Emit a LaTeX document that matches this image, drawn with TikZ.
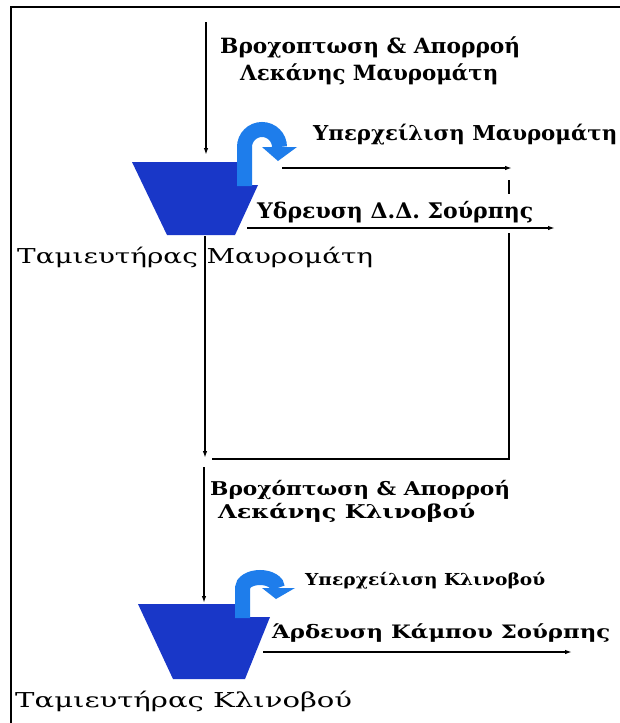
\documentclass[tikz,border=0pt]{standalone}
\usepackage{fontspec}
\setmainfont{DejaVu Serif}
\usepackage{graphicx}
\usetikzlibrary{arrows.meta}
\definecolor{tankblue}{RGB}{25,55,200}
\definecolor{pipeblue}{RGB}{30,125,235}
% #1 target width, #2 font size (sets cap height), #3 text
\newcommand{\fitt}[3]{\resizebox{#1}{\height}{\fontsize{#2}{#2}\selectfont #3}}
\tikzset{
  flow/.style={line width=2pt, -{Latex[length=7pt,width=4.5pt]}},
  plainline/.style={line width=2pt},
  lbl/.style={anchor=base west, inner sep=0pt, font=\bfseries},
  tname/.style={anchor=base west, inner sep=0pt},
  tank/.style={fill=tankblue},
  pipe/.style={draw=pipeblue, line width=15pt},
  pipehead/.style={fill=pipeblue},
  frameline/.style={line width=2pt}
}
\begin{document}
\begin{tikzpicture}[x=1pt,y=-1pt]
\fill[white] (0,0) rectangle (620,723);
\useasboundingbox (0,0) rectangle (620,723);
% frame
\coordinate (fTR) at (620,7);
\coordinate (fTL) at (11,7);
\coordinate (fBL) at (11,723);
\draw[frameline] (fTR) -- (fTL) -- (fBL);

% tank 1 (Mavromati)
\fill[tank] (132,162) -- (240,162) -- (240,185) -- (258,185) -- (235,235) -- (167,235) -- cycle;
\draw[pipe] (244.5,186) -- (244.5,147) arc[start angle=180, end angle=360, x radius=17.5, y radius=17.5];
\fill[pipehead] (262,147) -- (297,147) -- (278,161) -- cycle;

% tank 2 (Klinovos)
\fill[tank] (138,604) -- (237,604) -- (237,617) -- (270,617) -- (245,679) -- (173,679) -- cycle;
\draw[pipe] (242.5,618) -- (242.5,588) arc[start angle=180, end angle=360, x radius=17.5, y radius=10.5];
\fill[pipehead] (262,588) -- (295,588) -- (276,599) -- cycle;

% coordinates for connectors
\coordinate (in1s) at (206,22);
\coordinate (in1e) at (206,155);
\coordinate (out1s) at (205,236);
\coordinate (out1e) at (205,458);
\coordinate (ovs) at (282,168);
\coordinate (ove) at (512,168);
\coordinate (ret1) at (509,180);
\coordinate (ret2) at (509,194);
\coordinate (ret3) at (509,233);
\coordinate (ret4) at (509,459);
\coordinate (ret5) at (212,459);
\coordinate (sups) at (247,228);
\coordinate (supe) at (555,228);
\coordinate (in2s) at (204,467);
\coordinate (in2e) at (204,603);
\coordinate (irrs) at (263,652);
\coordinate (irre) at (572,652);

\draw[flow] (in1s) -- (in1e);
\draw[flow] (out1s) -- (out1e);
\draw[flow] (ovs) -- (ove);
\draw[plainline] (ret1) -- (ret2);
\draw[plainline] (ret3) -- (ret4) -- (ret5);
\draw[flow] (sups) -- (supe);
\draw[flow] (in2s) -- (in2e);
\draw[flow] (irrs) -- (irre);

% labels
\node[lbl] (rain1a) at (220,53) {\fitt{300pt}{21pt}{Βροχοπτωση \& Απορροή}};
\node[lbl] (rain1b) at (240,80) {\fitt{258pt}{21pt}{Λεκάνης Μαυρομάτη}};
\node[lbl] (ov1) at (313,140) {\fitt{304pt}{20.5pt}{Υπερχείλιση Μαυρομάτη}};
\node[lbl] (sup) at (257,218) {\fitt{276pt}{21.5pt}{Υδρευση Δ.Δ. Σούρπης}};
\node[tname] (t1) at (17,263) {\fitt{356pt}{20.5pt}{Ταμιευτήρας Μαυρομάτη}};
\node[lbl] (rain2a) at (210,495) {\fitt{300pt}{19pt}{Βροχόπτωση \& Απορροή}};
\node[lbl] (rain2b) at (218,518) {\fitt{257pt}{19pt}{Λεκάνης Κλινοβού}};
\node[lbl] (ov2) at (305,585) {\fitt{240pt}{16.5pt}{Υπερχείλιση Κλινοβού}};
\node[lbl] (irr) at (272,638) {\fitt{338pt}{18.5pt}{Άρδευση Κάμπου Σούρπης}};
\node[tname] (t2) at (15,707) {\fitt{337pt}{20.5pt}{Ταμιευτήρας Κλινοβού}};
\end{tikzpicture}
\end{document}
